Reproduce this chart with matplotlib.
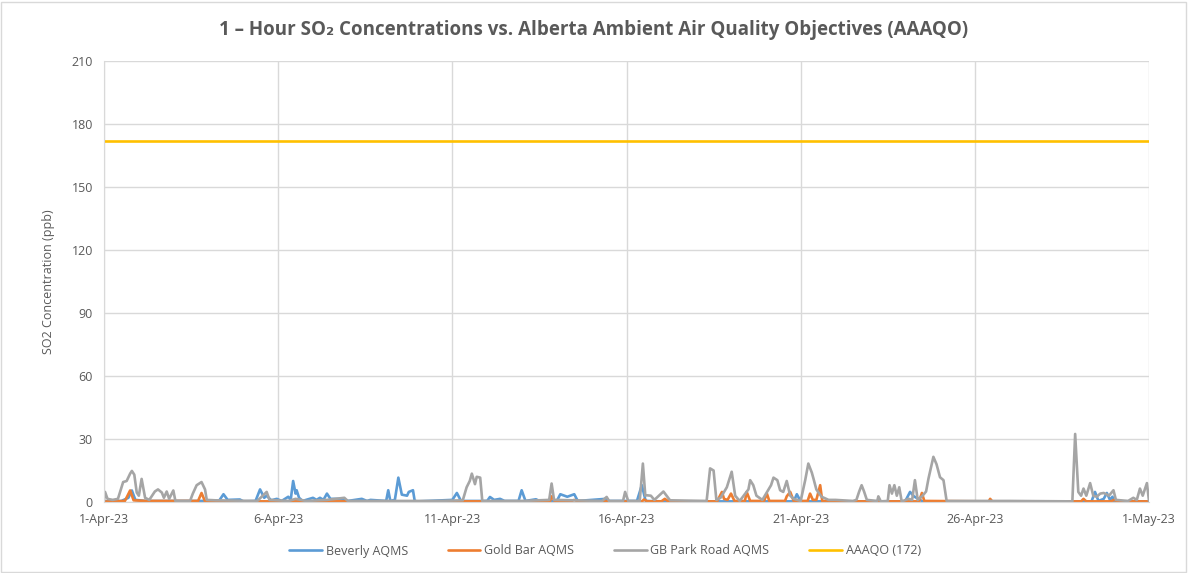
import numpy as np
import pandas as pd

import matplotlib
matplotlib.use("Agg")
import matplotlib.pyplot as plt
from matplotlib.patches import Rectangle

START = pd.Timestamp("2023-04-01")

# Beverly AQMS: (days since 1-Apr 00:00, ppb)
beverly_t = [0, 0.5, 0.7, 0.8, 0.9, 1.2, 2.0, 3.3, 3.43, 3.55, 3.9, 4.0, 4.35, 4.48, 4.6,
             4.67, 4.8, 4.96, 5.1, 5.29, 5.36, 5.43, 5.5, 5.53, 5.6, 5.7, 6.0, 6.1, 6.2,
             6.3, 6.4, 6.5, 6.8, 7.0, 7.4, 7.55, 7.65, 8.1, 8.16, 8.22, 8.35, 8.45, 8.55,
             8.7, 8.75, 8.87, 8.92, 9.0, 10.0, 10.13, 10.25, 11.0, 11.08, 11.2, 11.37,
             11.5, 11.9, 11.99, 12.1, 12.4, 12.5, 13.0, 13.1, 13.3, 13.5, 13.6, 14.0,
             14.4, 14.5, 15.3, 15.44, 15.55, 16.0, 19.8, 19.89, 20.0, 23.0, 23.14, 23.25,
             23.5, 28.35, 28.45, 28.55, 28.7, 28.79, 28.88, 28.95, 29.0, 30.0]
beverly_v = [0.3, 0.5, 2, 5.5, 1, 0.5, 0.5, 0.5, 3.7, 1, 1.2, 0.3, 0.5, 6, 2,
             3, 0.8, 1.5, 0.5, 2.5, 1, 10, 4, 5.6, 2, 0.5, 2, 1, 2,
             1, 4, 1.5, 1.5, 0.5, 1.5, 0.5, 1, 0.5, 5.6, 0.5, 1, 11.6, 3.5,
             3, 4.8, 5.6, 0.5, 0.3, 1, 4.3, 0.5, 0.5, 2.4, 1, 1.5,
             0.5, 0.5, 5.6, 0.5, 1.3, 0.5, 0.5, 3.7, 2.5, 3.7, 0.5, 1,
             1.5, 0.5, 0.5, 8, 0.5, 0.3, 0.3, 3.7, 0.3, 0.3, 4.8, 2.7,
             0.3, 0.3, 4.8, 0.5, 1.5, 4.3, 1, 2.5, 0.3, 0.3]

# Gold Bar AQMS
goldbar_t = [0, 0.6, 0.75, 0.85, 1.2, 2.7, 2.8, 2.9, 12.8, 12.85, 12.95, 13.4, 13.5, 13.6,
             15.45, 15.5, 15.6, 16.0, 16.1, 16.2, 17.6, 17.74, 17.8, 17.9, 18.0, 18.1,
             18.4, 18.45, 18.55, 18.95, 19.03, 19.1, 19.55, 19.6, 19.7, 19.8, 20.2, 20.27,
             20.35, 20.45, 20.56, 20.62, 21.0, 23.4, 23.48, 23.55, 25.4, 25.44, 25.5,
             28.05, 28.12, 28.2, 28.9, 29.0, 29.1, 30.0]
goldbar_v = [0.2, 0.5, 5.5, 0.8, 0.5, 0.5, 4.3, 0.3, 0.3, 2.7, 0.3, 0.3, 1, 0.3,
             0.3, 1.2, 0.3, 0.3, 1.5, 0.3, 0.3, 4.8, 1.5, 1, 4, 0.5,
             0.5, 4.8, 0.5, 0.5, 4, 0.5, 0.5, 2.7, 4.8, 0.5, 0.5, 4,
             1, 1, 8, 0.5, 0.3, 0.3, 4.3, 0.5, 0.3, 1.5, 0.3,
             0.3, 1.5, 0.3, 0.3, 1, 0.3, 0.3]

# GB Park Road AQMS
gbpark_t = [0, 0.03, 0.1, 0.25, 0.4, 0.55, 0.65, 0.75, 0.8, 0.87, 0.94, 1.0, 1.08, 1.18,
            1.3, 1.46, 1.55, 1.66, 1.72, 1.8, 1.87, 1.99, 2.05, 2.47, 2.55, 2.66, 2.75,
            2.8, 2.9, 2.95, 3.2, 4.4, 4.67, 4.75, 5.3, 5.5, 5.8, 6.4, 6.9, 7.0, 9.5,
            10.3, 10.41, 10.5, 10.56, 10.65, 10.7, 10.8, 10.86, 12.0, 12.78, 12.85, 12.92,
            14.3, 14.43, 14.5, 14.9, 14.96, 15.05, 15.38, 15.47, 15.54, 15.58, 15.7, 15.8,
            16.06, 16.15, 16.25, 17.3, 17.4, 17.5, 17.58, 17.7, 17.88, 18.02, 18.12,
            18.25, 18.5, 18.55, 18.64, 18.73, 18.9, 19.15, 19.22, 19.33, 19.41, 19.5,
            19.6, 19.7, 19.8, 20.0, 20.13, 20.22, 20.32, 20.37, 20.45, 20.5, 20.6, 20.8,
            21.0, 21.5, 21.6, 21.68, 21.75, 21.82, 21.9, 22.2, 22.23, 22.3, 22.5, 22.55,
            22.62, 22.69, 22.76, 22.83, 22.9, 23.1, 23.2, 23.28, 23.36, 23.5, 23.6,
            23.67, 23.81, 23.9, 24.0, 24.1, 24.19, 26.0, 27.8, 27.88, 27.97, 28.05,
            28.12, 28.2, 28.31, 28.4, 28.5, 28.6, 28.7, 28.85, 28.98, 29.05, 29.4,
            29.55, 29.65, 29.74, 29.82, 29.94, 30.0]
gbpark_v = [0.5, 4.8, 1.5, 1, 1.5, 9.5, 10, 13.5, 14.8, 13, 4.5, 3, 11, 2,
            1, 5, 6, 4.5, 2, 5, 1.5, 5.5, 0.5, 0.5, 4, 8, 9,
            9.5, 6, 1, 0.8, 0.5, 4.8, 1, 0.5, 1.5, 0.5, 1, 2, 0.5, 0.5,
            0.8, 7, 10, 13.5, 8.5, 12, 11.6, 0.5, 0.5, 1, 8.8, 1,
            0.5, 2.4, 0.5, 0.5, 4.8, 0.5, 0.5, 18.3, 3, 3.2, 3, 1,
            5, 3, 0.8, 0.5, 16, 15, 1, 2, 7, 14.4, 3,
            0.5, 6, 10.4, 8, 3, 1, 8, 11.6, 10.4, 5.6, 4.8,
            10, 3, 1.5, 0.5, 10.4, 18.3, 14, 11, 6, 4.8, 2.5, 1,
            1, 0.5, 1, 5, 8, 5, 1, 0.5, 2.7, 0.3, 0.5, 8,
            4, 8, 3, 7, 0.3, 1.5, 1, 10.4, 1, 3, 5,
            11.2, 21.5, 18, 11.8, 10.4, 0.5, 0.5, 0.3, 32.4, 4.8, 3,
            6.4, 3, 9, 3, 2.5, 4, 4.3, 3, 5.6, 1, 0.5,
            2, 1, 6.4, 3, 9, 0.5]

# AAAQO 1-hour objective
aaaqo_t = [0, 30]
aaaqo_v = [172, 172]

tick_days = [0, 5, 10, 15, 20, 25, 30]
tick_labels = ["1-Apr-23", "6-Apr-23", "11-Apr-23", "16-Apr-23", "21-Apr-23", "26-Apr-23", "1-May-23"]

TEXT = "#595959"
GRID = "#D9D9D9"


def to_dates(days):
    return START + pd.to_timedelta(np.asarray(days, dtype=float), unit="D")


plt.rcParams["font.family"] = ["Open Sans", "DejaVu Sans"]

fig = plt.figure(figsize=(11.88, 5.73), dpi=100)
ax = fig.add_axes([104 / 1188, 1 - 502 / 573, (1149 - 104) / 1188, (502 - 61) / 573])

series = [
    (beverly_t, beverly_v, "Beverly AQMS", "#5B9BD5"),
    (goldbar_t, goldbar_v, "Gold Bar AQMS", "#ED7D31"),
    (gbpark_t, gbpark_v, "GB Park Road AQMS", "#A5A5A5"),
    (aaaqo_t, aaaqo_v, "AAAQO (172)", "#FFC000"),
]
for t, v, label, color in series:
    ax.plot(to_dates(t), v, color=color, linewidth=1.9, label=label,
            solid_joinstyle="round", solid_capstyle="round")

ax.set_xlim(to_dates([0])[0], to_dates([30])[0])
ax.set_ylim(0, 210)
ax.set_yticks(np.arange(0, 211, 30))
ax.set_xticks(to_dates(tick_days))
ax.set_xticklabels(tick_labels)
ax.tick_params(axis="both", length=0, colors=TEXT, labelsize=9, pad=8)
ax.grid(True, color=GRID, linewidth=1)
ax.set_axisbelow(True)
for side in ["top", "right"]:
    ax.spines[side].set_visible(False)
for side in ["left", "bottom"]:
    ax.spines[side].set_color(GRID)

ax.set_ylabel("SO2 Concentration (ppb)", color=TEXT, fontsize=9, labelpad=12)

fig.text(0.5, 1 - 30 / 573, "1 \u2013 Hour SO\u2082 Concentrations vs. Alberta Ambient Air Quality Objectives (AAAQO)",
         ha="center", va="center", fontsize=13.5, fontweight="bold", color=TEXT)

fig.legend(loc="center", bbox_to_anchor=(605 / 1188, 1 - 551 / 573), ncol=4, frameon=False,
           fontsize=9, labelcolor=TEXT, handlelength=2.6, columnspacing=3.2, handletextpad=0.3)

fig.add_artist(Rectangle((0.001, 0.002), 0.997, 0.995, transform=fig.transFigure,
                         fill=False, edgecolor=GRID, linewidth=1))

fig.savefig("out.png", dpi=100)
